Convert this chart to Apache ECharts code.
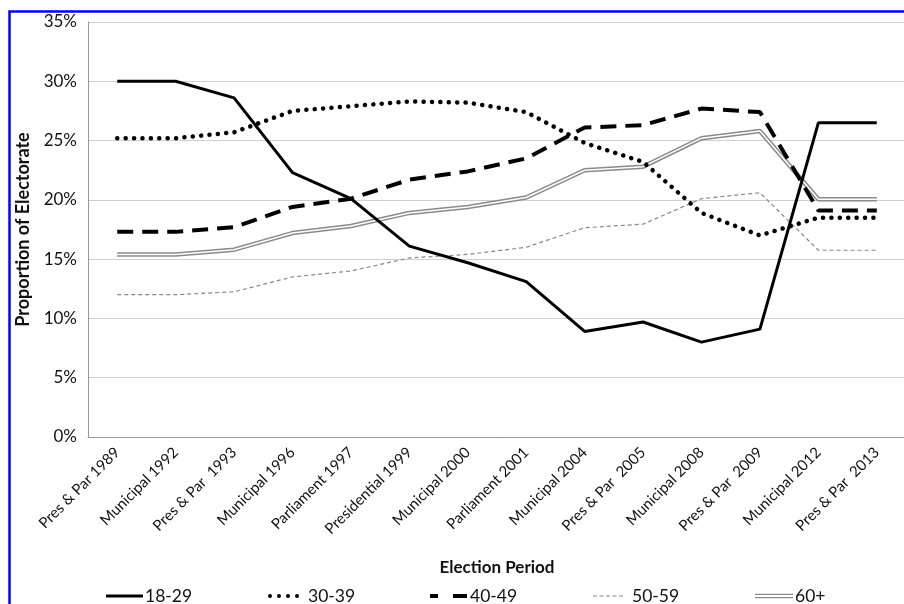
<!DOCTYPE html>
<html><head><meta charset="utf-8">
<script src="https://cdn.jsdelivr.net/npm/echarts@6/dist/echarts.min.js"></script>
<style>html,body{margin:0;padding:0;background:#fff}#c{width:904px;height:604px}</style>
</head><body><div id="c"></div>
<script>
const categories = ['Pres & Par 1989','Municipal 1992','Pres & Par  1993','Municipal 1996','Parliament 1997','Presidential 1999','Municipal 2000','Parliament 2001','Municipal 2004','Pres & Par  2005','Municipal 2008','Pres & Par  2009','Municipal 2012','Pres & Par  2013'];
const s1829 = [30.0,30.0,28.6,22.3,20.1,16.1,14.7,13.1,8.9,9.7,8.0,9.1,26.5,26.5];
const s3039 = [25.2,25.2,25.7,27.5,27.9,28.3,28.2,27.4,24.8,23.2,18.9,17.0,18.5,18.5];
const s4049 = [17.3,17.3,17.7,19.4,20.1,21.7,22.4,23.5,26.1,26.3,27.7,27.4,19.1,19.1];
const s5059 = [12.0,12.0,12.25,13.5,14.0,15.1,15.4,16.0,17.65,17.95,20.1,20.6,15.75,15.75];
const s60p  = [15.4,15.4,15.8,17.2,17.8,18.9,19.4,20.2,22.5,22.8,25.2,25.8,20.05,20.05];
const yTicks = [0,5,10,15,20,25,30,35];

const font = 'Lato, "Open Sans", sans-serif';
const legendText = {fontFamily:font, fontSize:17.5, color:'#111'};
function dots(n, d, step){
  let p = 'path://';
  for (let i=0;i<n;i++){ const cx = d/2 + i*step; p += `M${cx-d/2},${d/2}A${d/2},${d/2} 0 1,0 ${cx+d/2},${d/2}A${d/2},${d/2} 0 1,0 ${cx-d/2},${d/2}Z`; }
  return p;
}
function mkLegend(name, left, width, icon, pad){
  return {data:[{name:name, icon:icon}], left:left, top:582, itemWidth:width, itemHeight:14,
    textStyle:Object.assign({padding:[0,0,0,pad]}, legendText)};
}
const chart = echarts.init(document.getElementById('c'), null, {renderer:'canvas'});
chart.setOption({
  animation:false,
  graphic:[{type:'rect', shape:{x:9.5,y:11.5,width:2000,height:2000}, style:{fill:null, stroke:'#0000ff', lineWidth:2.5}, silent:true, z:100}],
  grid:{left:88, top:22, width:818, height:415, containLabel:false, outerBoundsMode:'none'},
  legend:[
    mkLegend('18-29', 101, 37, 'path://M0,0H37V3H0Z', -3),
    mkLegend('30-39', 263, 31, dots(4, 4, 9), 4),
    mkLegend('40-49', 425, 37, 'path://M0,0H8V4H0Z M23,0H37V4H23Z', -2),
    mkLegend('50-59', 588, 30, 'path://M0,0H4V1.2H0Z M6.5,0H10.5V1.2H6.5Z M13,0H17V1.2H13Z M19.5,0H23.5V1.2H19.5Z M26,0H30V1.2H26Z', 4),
    mkLegend('60+', 750, 38, 'path://M0,0H38V1.4H0Z M0,3.2H38V4.6H0Z', -3)
  ],
  xAxis:{
    type:'category', data:categories, boundaryGap:true,
    axisLine:{lineStyle:{color:'#999', width:1}},
    axisTick:{alignWithLabel:true, length:4, lineStyle:{color:'#999'}},
    axisLabel:{rotate:45, fontFamily:font, fontSize:15, color:'#111', margin:13, interval:0},
    name:'Election Period', nameLocation:'middle', nameGap:122,
    nameTextStyle:{fontFamily:font, fontSize:17, fontWeight:'bold', color:'#111'}
  },
  yAxis:{
    type:'value', min:0, max:35, interval:5,
    axisLine:{show:true, lineStyle:{color:'#999', width:1}},
    axisTick:{show:false},
    splitLine:{lineStyle:{color:'#cfcfcf', width:1.2}},
    axisLabel:{formatter: v => yTicks.includes(v) ? v + '%' : '', fontFamily:font, fontSize:17, color:'#111', margin:11},
    name:'Proportion of Electorate', nameLocation:'middle', nameGap:56,
    nameTextStyle:{fontFamily:font, fontSize:18, fontWeight:'bold', color:'#111'}
  },
  series:[
    {name:'18-29', type:'line', data:s1829, symbol:'none', lineStyle:{color:'#000', width:3}, itemStyle:{color:'#000'}, z:5},
    {name:'30-39', type:'line', data:s3039, symbol:'none', lineStyle:{color:'#000', width:4.5, type:[0.1,8.3], cap:'round'}, itemStyle:{color:'#000'}, z:4},
    {name:'40-49', type:'line', data:s4049, symbol:'none', lineStyle:{color:'#000', width:4, type:[16,9]}, itemStyle:{color:'#000'}, z:3},
    {name:'50-59', type:'line', data:s5059, symbol:'none', lineStyle:{color:'#888', width:1.2, type:[4,3]}, itemStyle:{color:'#888'}, z:2},
    {name:'60+', type:'line', data:s60p, symbol:'none', lineStyle:{color:'#8a8a8a', width:4.5}, itemStyle:{color:'#8a8a8a'}, z:2},
    {name:'60+ inner', type:'line', data:s60p, symbol:'none', lineStyle:{color:'#fff', width:1.5}, itemStyle:{color:'#fff'}, z:2, silent:true}
  ]
});
</script></body></html>
